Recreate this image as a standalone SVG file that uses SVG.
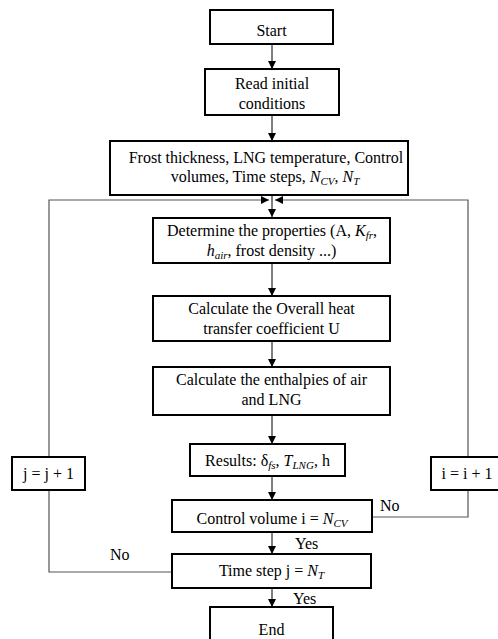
<svg xmlns="http://www.w3.org/2000/svg" width="498" height="639" viewBox="0 0 498 639">
<style>
.box{fill:#fff;stroke:#000;stroke-width:2}
.t{font-family:"Liberation Serif","Times New Roman",serif;font-size:16px;fill:#000;text-anchor:middle}
.l{font-family:"Liberation Serif","Times New Roman",serif;font-size:16px;fill:#000}
.m{font-style:italic}
.s{font-style:italic;font-size:11px}
.c{fill:none;stroke:#000;stroke-width:1}
.g{fill:none;stroke:#555;stroke-width:1.2}
</style>
<defs>
<marker id="ah" viewBox="0 0 10 10" refX="10" refY="5" markerWidth="8" markerHeight="8" markerUnits="userSpaceOnUse" orient="auto">
<path d="M0,0 L10,5 L0,10 z" fill="#000"/>
</marker>
</defs>
<rect width="498" height="639" fill="#fff"/>
<g id="connectors">
<line class="c" x1="272" y1="44" x2="272" y2="69" marker-end="url(#ah)"/>
<line class="c" x1="272" y1="115" x2="272" y2="141" marker-end="url(#ah)"/>
<line class="c" x1="272" y1="195" x2="272" y2="217" marker-end="url(#ah)"/>
<polyline class="g" points="49,457 49,200 269,200" marker-end="url(#ah)"/>
<polyline class="g" points="468,457 468,200 275,200" marker-end="url(#ah)"/>
<line class="c" x1="272" y1="263" x2="272" y2="296" marker-end="url(#ah)"/>
<line class="c" x1="272" y1="341" x2="272" y2="367" marker-end="url(#ah)"/>
<line class="c" x1="272" y1="415" x2="272" y2="444" marker-end="url(#ah)"/>
<line class="c" x1="272" y1="476" x2="272" y2="500" marker-end="url(#ah)"/>
<polyline class="g" points="372,517 468,517 468,490"/>
<line class="c" x1="272" y1="532" x2="272" y2="554" marker-end="url(#ah)"/>
<polyline class="g" points="172,572 49,572 49,490"/>
<line class="c" x1="272" y1="588" x2="272" y2="607" marker-end="url(#ah)"/>
<text class="l" x="380" y="511">No</text>
<text class="l" x="295" y="549">Yes</text>
<text class="l" x="110" y="560">No</text>
<text class="l" x="293" y="604">Yes</text>
</g>
<g id="start">
<rect class="box" x="210" y="10" width="123" height="34"/>
<text class="t" x="271.5" y="36">Start</text>
</g>
<g id="read">
<rect class="box" x="205" y="69" width="134" height="46"/>
<text class="t" x="272" y="89">Read initial</text>
<text class="t" x="272" y="109">conditions</text>
</g>
<g id="frost">
<rect class="box" x="110" y="141" width="298" height="54"/>
<text class="t" x="266" y="163">Frost thickness, LNG temperature, Control</text>
<text class="t" x="265" y="182">volumes, Time steps, <tspan class="m">N</tspan><tspan class="s" dy="3">CV</tspan><tspan dy="-3">,  </tspan><tspan class="m">N</tspan><tspan class="s" dy="3">T</tspan></text>
</g>
<g id="determine">
<rect class="box" x="153" y="218" width="237" height="45"/>
<text class="t" x="272" y="236">Determine the properties (A, <tspan class="m">K</tspan><tspan class="s" dy="3">fr</tspan><tspan dy="-3">,</tspan></text>
<text class="t" x="271.5" y="256"><tspan class="m">h</tspan><tspan class="s" dy="3">air</tspan><tspan dy="-3">, frost density ...)</tspan></text>
</g>
<g id="overall">
<rect class="box" x="153" y="296" width="237" height="45"/>
<text class="t" x="271.5" y="314">Calculate the Overall heat</text>
<text class="t" x="271.5" y="334">transfer coefficient U</text>
</g>
<g id="enthalpies">
<rect class="box" x="153" y="367" width="237" height="48"/>
<text class="t" x="271.5" y="385">Calculate the enthalpies of air</text>
<text class="t" x="271.5" y="405">and LNG</text>
</g>
<g id="results">
<rect class="box" x="190" y="444" width="155" height="32"/>
<text class="t" x="267.5" y="466">Results: δ<tspan class="s" dy="3">fs</tspan><tspan dy="-3">,  </tspan><tspan class="m">T</tspan><tspan class="s" dy="3">LNG</tspan><tspan dy="-3">, h</tspan></text>
</g>
<g id="control">
<rect class="box" x="172" y="500" width="200" height="32"/>
<text class="t" x="272" y="524">Control volume i = <tspan class="m">N</tspan><tspan class="s" dy="3">CV</tspan></text>
</g>
<g id="timestep">
<rect class="box" x="172" y="554" width="199" height="34"/>
<text class="t" x="271.5" y="576">Time step j = <tspan class="m">N</tspan><tspan class="s" dy="3">T</tspan></text>
</g>
<g id="end">
<rect class="box" x="210" y="607" width="123" height="40"/>
<text class="t" x="271.5" y="635">End</text>
</g>
<g id="jinc">
<rect class="box" x="12" y="457" width="73" height="33"/>
<text class="t" x="48.5" y="479">j = j + 1</text>
</g>
<g id="iinc">
<rect class="box" x="431" y="457" width="72" height="33"/>
<text class="t" x="467" y="479">i = i + 1</text>
</g>
</svg>
